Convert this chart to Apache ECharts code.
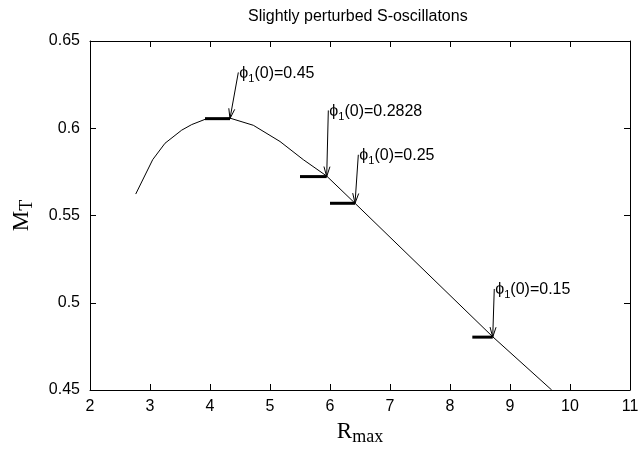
<!DOCTYPE html>
<html>
<head>
<meta charset="utf-8">
<script src="https://cdn.jsdelivr.net/npm/echarts@6/dist/echarts.min.js"></script>
<style>
html,body{margin:0;padding:0;background:#fff;}
#chart{width:644px;height:451px;}
</style>
</head>
<body>
<div id="chart"></div>
<script>
// ---- data ----
const titleText = 'Slightly perturbed S-oscillatons';
const xRange = [2, 11];
const xStep = 1;
const yRange = [0.45, 0.65];
const yStep = 0.05;

// main curve M_T(R_max)
const rmax = [2.762, 3.045, 3.25, 3.528, 3.695, 3.917, 4.333, 4.722, 5.167, 5.555, 5.945, 6.417, 8.712, 9.695];
const mass = [0.5623, 0.5820, 0.5914, 0.5989, 0.6021, 0.6051, 0.6058, 0.6017, 0.5924, 0.5820, 0.5726, 0.5570, 0.4805, 0.45];

// thick horizontal markers
const segR0 = [3.917, 5.5, 6.0, 8.372];
const segR1 = [4.333, 5.945, 6.417, 8.712];
const segM = [0.6055, 0.5723, 0.557, 0.4803];

// arrows (tail -> tip) with labels
const arrowTailR = [4.472, 5.972, 6.472, 8.738];
const arrowTailM = [0.632, 0.6102, 0.5848, 0.5079];
const arrowTipR = [4.333, 5.945, 6.417, 8.712];
const arrowTipM = [0.6055, 0.5723, 0.557, 0.4803];
const phiValues = ['0.45', '0.2828', '0.25', '0.15'];

// ---- chart ----
const chart = echarts.init(document.getElementById('chart'), null, {renderer: 'canvas'});
const sans = 'Liberation Sans, Arial, Helvetica, sans-serif';
const serif = 'Liberation Serif, Times New Roman, serif';

function mkX(pos, showLabel, withName) {
  const a = {
    type: 'value', position: pos, min: xRange[0], max: xRange[1], interval: xStep,
    axisLine: {show: true, onZero: false, lineStyle: {color: '#000', width: 1}},
    axisTick: {show: true, inside: true, length: 6, lineStyle: {color: '#000', width: 1}},
    axisLabel: {show: showLabel, color: '#000', fontSize: 16, fontFamily: sans, margin: 9},
    splitLine: {show: false}
  };
  if (withName) {
    a.name = '{r|R}{s|max}';
    a.nameLocation = 'middle';
    a.nameGap = 28;
    a.nameTextStyle = {
      rich: {
        r: {fontFamily: serif, fontSize: 23, lineHeight: 28, color: '#000'},
        s: {fontFamily: serif, fontSize: 18, lineHeight: 14, verticalAlign: 'bottom', color: '#000'}
      }
    };
  }
  return a;
}
function mkY(pos, showLabel, withName) {
  const a = {
    type: 'value', position: pos, min: yRange[0], max: yRange[1], interval: yStep,
    axisLine: {show: true, onZero: false, lineStyle: {color: '#000', width: 1}},
    axisTick: {show: true, inside: true, length: 6, lineStyle: {color: '#000', width: 1}},
    axisLabel: {show: showLabel, color: '#000', fontSize: 16, fontFamily: sans, margin: 10},
    splitLine: {show: false}
  };
  if (withName) {
    a.name = '{m|M}{t|T}';
    a.nameLocation = 'middle';
    a.nameRotate = 90;
    a.nameGap = 54;
    a.nameTextStyle = {
      rich: {
        m: {fontFamily: serif, fontSize: 23, lineHeight: 28, color: '#000'},
        t: {fontFamily: serif, fontSize: 18, lineHeight: 14, verticalAlign: 'bottom', color: '#000'}
      }
    };
  }
  return a;
}

const curveData = rmax.map((r, i) => [r, mass[i]]);
const segData = segR0.map((r, i) => [r, segR1[i], segM[i]]);
const arrowData = arrowTailR.map((r, i) => [r, arrowTailM[i], arrowTipR[i], arrowTipM[i]]);

chart.setOption({
  animation: false,
  backgroundColor: '#fff',
  title: {
    text: titleText, left: 248, top: 9, padding: 0,
    textStyle: {fontFamily: sans, fontSize: 16, fontWeight: 'normal', color: '#000'}
  },
  grid: {left: 90, right: 14, top: 41, bottom: 55, containLabel: false},
  xAxis: [mkX('bottom', true, true), mkX('top', false, false)],
  yAxis: [mkY('left', true, true), mkY('right', false, false)],
  series: [
    {
      type: 'line', data: curveData, showSymbol: false, symbol: 'none',
      lineStyle: {color: '#000', width: 1}, xAxisIndex: 0, yAxisIndex: 0, z: 2
    },
    {
      type: 'custom', data: segData, xAxisIndex: 0, yAxisIndex: 0, z: 3,
      encode: {x: [0, 1], y: 2},
      renderItem: function (params, api) {
        const a = api.coord([api.value(0), api.value(2)]);
        const b = api.coord([api.value(1), api.value(2)]);
        return {type: 'line', shape: {x1: a[0], y1: a[1], x2: b[0], y2: b[1]},
          style: {stroke: '#000', lineWidth: 3}};
      }
    },
    {
      type: 'custom', data: arrowData, xAxisIndex: 0, yAxisIndex: 0, z: 4, clip: false,
      encode: {x: [0, 2], y: [1, 3]},
      renderItem: function (params, api) {
        const tail = api.coord([api.value(0), api.value(1)]);
        const tip = api.coord([api.value(2), api.value(3)]);
        const dx = tail[0] - tip[0], dy = tail[1] - tip[1];
        const len = Math.hypot(dx, dy);
        const ux = dx / len, uy = dy / len;
        const hl = 10, hw = 3;
        const p1 = [tip[0] + ux * hl - uy * hw, tip[1] + uy * hl + ux * hw];
        const p2 = [tip[0] + ux * hl + uy * hw, tip[1] + uy * hl - ux * hw];
        const v = phiValues[params.dataIndex];
        return {
          type: 'group',
          children: [
            {type: 'line', shape: {x1: tail[0], y1: tail[1], x2: tip[0], y2: tip[1]},
              style: {stroke: '#000', lineWidth: 1}},
            {type: 'polyline', shape: {points: [p1, tip, p2]},
              style: {stroke: '#000', lineWidth: 1, fill: null}},
            {type: 'text', x: tail[0] + 1, y: tail[1] + 1,
              style: {
                text: '{a|ϕ}{s|1}{a|(0)=' + v + '}',
                align: 'left', verticalAlign: 'middle',
                rich: {
                  a: {fontFamily: sans, fontSize: 16, lineHeight: 22, fill: '#000'},
                  s: {fontFamily: sans, fontSize: 11, lineHeight: 10, verticalAlign: 'bottom', fill: '#000'}
                }
              }}
          ]
        };
      }
    }
  ]
});
</script>
</body>
</html>
